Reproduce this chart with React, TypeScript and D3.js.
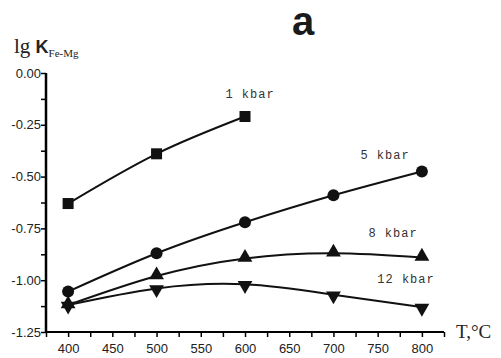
import React, { useRef, useEffect } from "react";
import * as d3 from "d3";

const temps = [400, 500, 600, 700, 800];
const kbar1 = [-0.63, -0.39, -0.21];
const kbar5 = [-1.055, -0.87, -0.72, -0.59, -0.475];
const kbar8 = [-1.12, -0.98, -0.895, -0.87, -0.89];
const kbar12 = [-1.12, -1.04, -1.02, -1.07, -1.13];
const seriesNames = ["1 kbar", "5 kbar", "8 kbar", "12 kbar"];
const xTickLabels = [400, 450, 500, 550, 600, 650, 700, 750, 800];
const yTickLabels = ["0.00", "-0.25", "-0.50", "-0.75", "-1.00", "-1.25"];

export default function App() {
  const svgRef = useRef<SVGSVGElement>(null);

  useEffect(() => {
    const svg = d3.select(svgRef.current);
    svg.selectAll("*").remove();

    const x = d3.scaleLinear().domain([375, 825]).range([46, 444]);
    const y = d3.scaleLinear().domain([-1.25, 0]).range([332, 73]);

    // axes
    const xAxis = d3
      .axisBottom(x)
      .tickValues(d3.range(375, 826, 25))
      .tickSize(5)
      .tickFormat((d) => (xTickLabels.includes(+d) ? String(d) : ""));
    const gx = svg.append("g").attr("transform", `translate(0,${y(-1.25)})`).call(xAxis);
    gx.select(".domain").attr("stroke-width", 2).attr("d", `M${x(375)},0H${x(825)}`);
    gx.selectAll(".tick line").attr("stroke-width", 1.5);
    gx.selectAll(".tick text")
      .attr("font-family", "Liberation Sans, Arial, sans-serif")
      .attr("font-size", 13)
      .attr("fill", "#222")
      .attr("dy", "1em");

    const yAxis = d3
      .axisLeft(y)
      .tickValues(d3.range(0, 11).map((i) => -i * 0.125))
      .tickSize(5)
      .tickFormat((d, i) => (i % 2 === 0 ? yTickLabels[i / 2] : ""));
    const gy = svg.append("g").attr("transform", `translate(${x(375)},0)`).call(yAxis);
    gy.select(".domain").attr("stroke-width", 2.5).attr("d", `M0,${y(0)}V${y(-1.25)}`);
    gy.selectAll(".tick line").attr("stroke-width", 1.5);
    gy.selectAll(".tick text")
      .attr("font-family", "Liberation Sans, Arial, sans-serif")
      .attr("font-size", 13)
      .attr("fill", "#222")
      .attr("x", -5);

    const line = d3
      .line<number>()
      .curve(d3.curveNatural)
      .x((d, i) => x(temps[i]))
      .y((d) => y(d));

    const all = [kbar1, kbar5, kbar8, kbar12];
    all.forEach((s) => {
      svg
        .append("path")
        .attr("d", line(s))
        .attr("fill", "none")
        .attr("stroke", "#111")
        .attr("stroke-width", 2);
    });

    // markers
    svg
      .selectAll("rect.sq")
      .data(kbar1)
      .enter()
      .append("rect")
      .attr("x", (d, i) => x(temps[i]) - 5.5)
      .attr("y", (d) => y(d) - 5.5)
      .attr("width", 11)
      .attr("height", 11)
      .attr("fill", "#111");

    svg
      .selectAll("circle.c")
      .data(kbar5)
      .enter()
      .append("circle")
      .attr("cx", (d, i) => x(temps[i]))
      .attr("cy", (d) => y(d))
      .attr("r", 6)
      .attr("fill", "#111");

    const up = d3.symbol(d3.symbolTriangle, 95);
    svg
      .selectAll("path.up")
      .data(kbar8)
      .enter()
      .append("path")
      .attr("d", up)
      .attr("transform", (d, i) => `translate(${x(temps[i])},${y(d) - 1})`)
      .attr("fill", "#111");

    svg
      .selectAll("path.down")
      .data(kbar12)
      .enter()
      .append("path")
      .attr("d", up)
      .attr("transform", (d, i) => `translate(${x(temps[i])},${y(d) + 1}) rotate(180)`)
      .attr("fill", "#111");

    // series labels
    const labelPos = [
      [250, 98],
      [385, 159],
      [393, 237],
      [406, 283],
    ];
    svg
      .selectAll("text.lbl")
      .data(seriesNames)
      .enter()
      .append("text")
      .attr("x", (d, i) => labelPos[i][0])
      .attr("y", (d, i) => labelPos[i][1])
      .attr("text-anchor", "middle")
      .attr("font-family", "Liberation Mono, Courier New, monospace")
      .attr("font-size", 12)
      .attr("letter-spacing", 1)
      .attr("fill", "#333")
      .text((d) => d);

    // title + axis labels
    svg
      .append("text")
      .attr("x", 303)
      .attr("y", 35)
      .attr("text-anchor", "middle")
      .attr("font-family", "Liberation Sans, Arial, sans-serif")
      .attr("font-weight", 900)
      .attr("font-size", 40)
      .attr("fill", "#1a1a1a")
      .text("a");

    const yl = svg.append("text").attr("x", 14).attr("y", 53).attr("fill", "#222");
    yl.append("tspan")
      .attr("font-family", "Liberation Serif, Times New Roman, serif")
      .attr("font-size", 21)
      .text("lg ");
    yl.append("tspan")
      .attr("font-family", "Liberation Sans, Arial, sans-serif")
      .attr("font-weight", "bold")
      .attr("font-size", 18)
      .text("K");
    yl.append("tspan")
      .attr("font-family", "Liberation Serif, Times New Roman, serif")
      .attr("font-size", 11)
      .attr("dy", 4)
      .text("Fe-Mg");

    svg
      .append("text")
      .attr("x", 456)
      .attr("y", 338)
      .attr("font-family", "Liberation Serif, Times New Roman, serif")
      .attr("font-size", 19)
      .attr("fill", "#222")
      .text("T,°C");
  }, []);

  return (
    <div>
      <svg
        ref={svgRef}
        width={501}
        height={358}
        style={{ position: "absolute", left: 0, top: 0, background: "#fff" }}
      ></svg>
    </div>
  );
}
